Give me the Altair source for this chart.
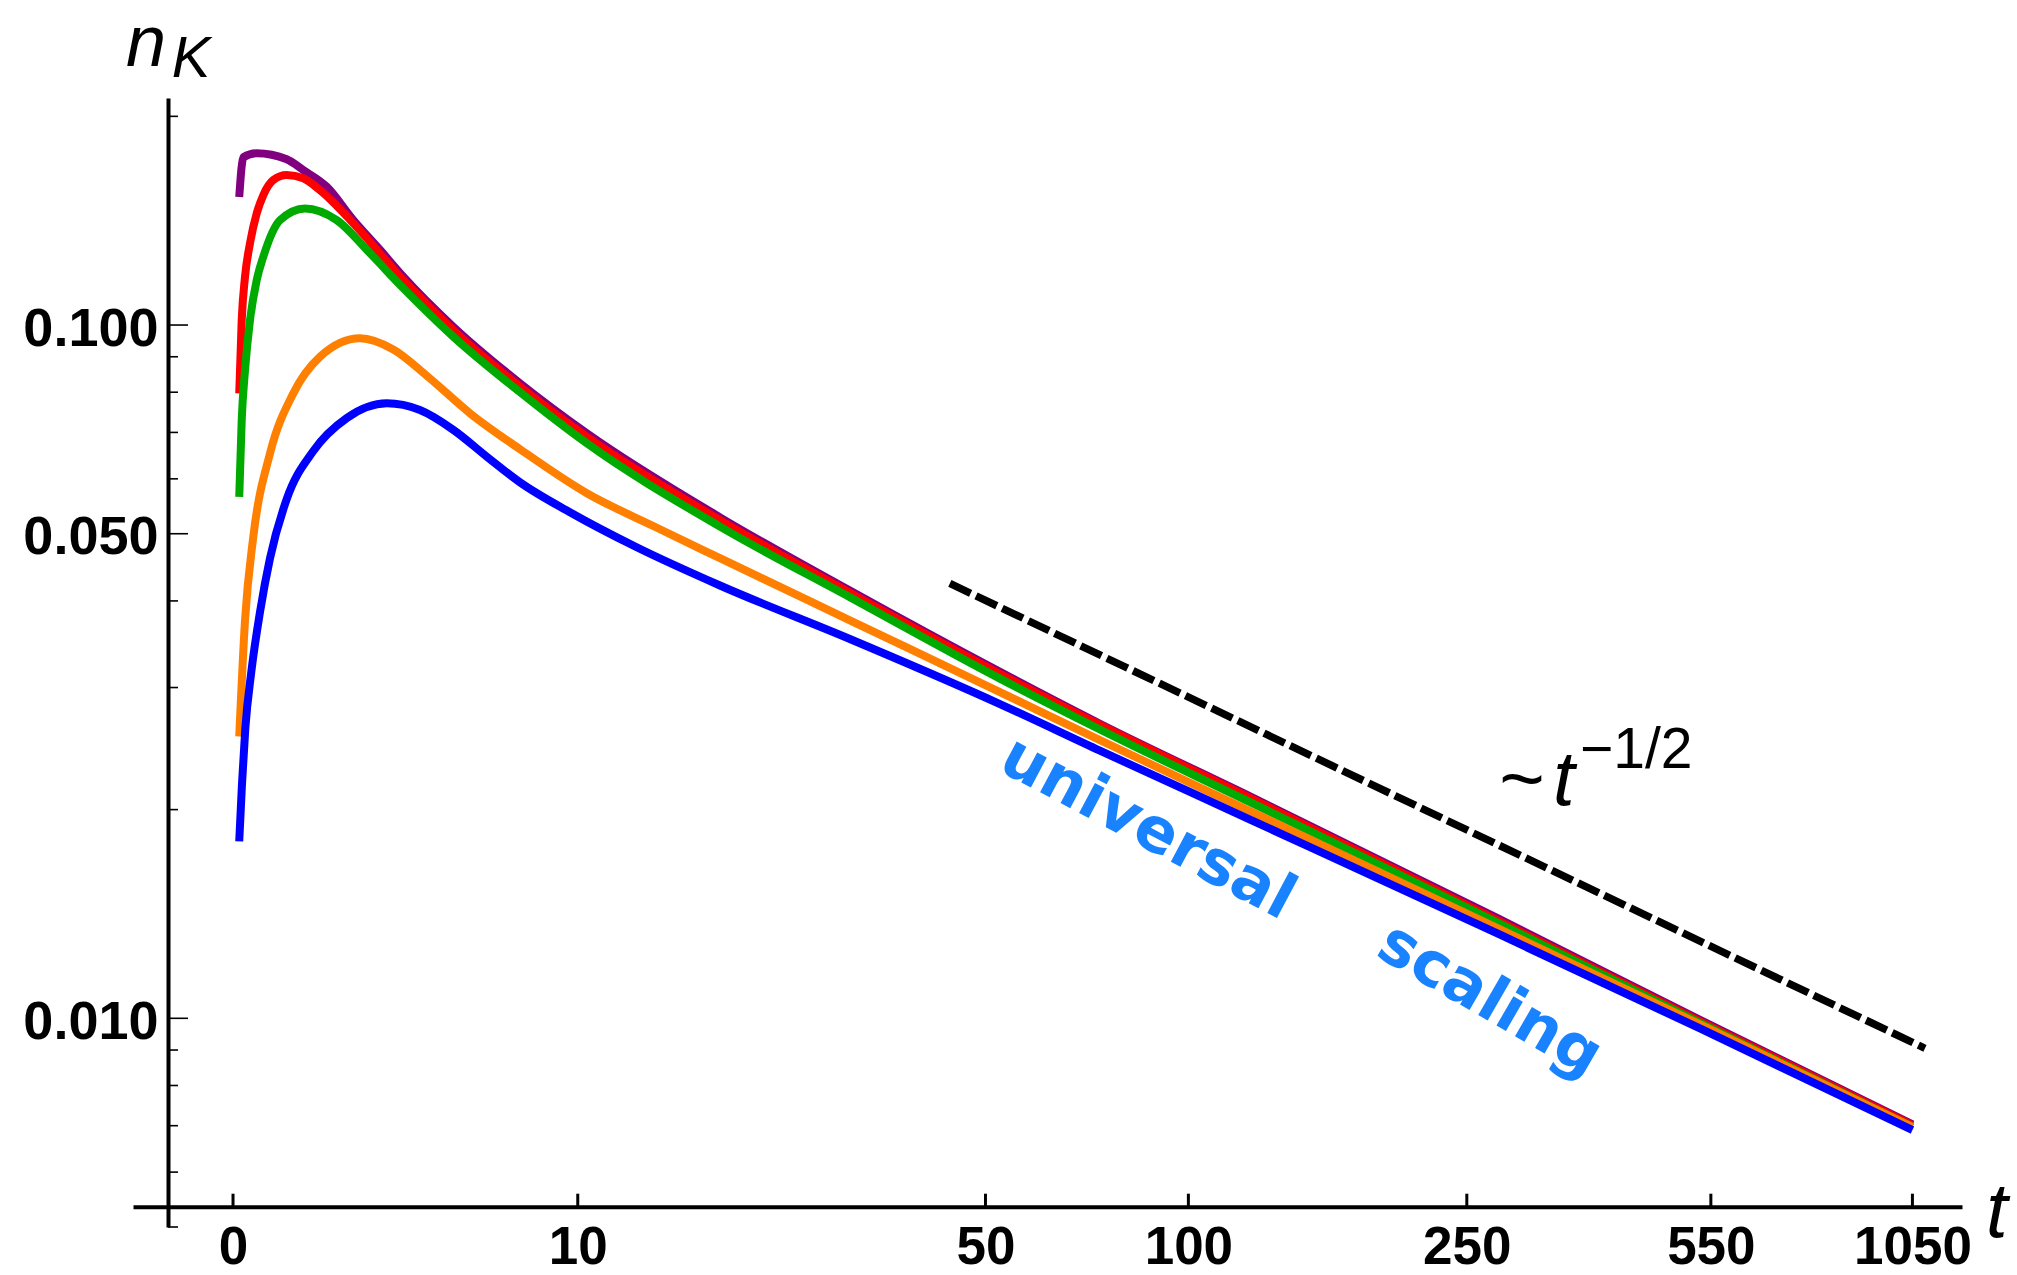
import altair as alt
import pandas as pd

# ---------------- data ----------------
purple_t = [0.1, 0.167, 0.392, 0.933, 1.255, 1.74, 2.336, 2.99, 3.603, 5.09, 7.48, 10.44, 18.6, 30.7, 52.6, 74.2, 122.8, 278, 531, 1050]
purple_n = [0.153, 0.1746, 0.1769, 0.1734, 0.1673, 0.1583, 0.1417, 0.1283, 0.1174, 0.0994, 0.0824, 0.0698, 0.0528, 0.0414, 0.0316, 0.0266, 0.0209, 0.0139, 0.00995, 0.00703]

red_t = [0.1, 0.1405, 0.195, 0.278, 0.392, 0.507, 0.685, 0.933, 1.255, 1.597, 2.336, 3.603, 5.09, 7.48, 10.44, 18.6, 30.7, 52.6, 74.2, 122.8, 278, 531, 1050]
red_n = [0.0797, 0.1017, 0.1174, 0.1312, 0.1449, 0.1540, 0.1619, 0.1646, 0.1628, 0.1565, 0.1402, 0.1161, 0.0983, 0.0815, 0.0690, 0.0523, 0.0411, 0.0314, 0.0265, 0.0208, 0.0138, 0.0099, 0.00701]

green_t = [0.1, 0.1405, 0.195, 0.278, 0.392, 0.507, 0.808, 1.29, 1.958, 2.737, 3.603, 5.09, 7.48, 10.44, 18.6, 30.7, 52.6, 74.2, 122.8, 278, 531, 1050]
green_n = [0.0565, 0.0730, 0.0861, 0.1017, 0.1161, 0.1255, 0.1417, 0.1473, 0.1417, 0.1269, 0.1130, 0.0962, 0.0800, 0.0675, 0.0512, 0.0405, 0.0309, 0.0261, 0.0205, 0.0137, 0.00985, 0.00697]

orange_t = [0.1, 0.195, 0.334, 0.626, 1.059, 1.597, 2.494, 3.333, 4.27, 5.64, 7.48, 10.44, 14.08, 18.6, 30.7, 52.6, 74.2, 122.8, 278, 531, 1050]
orange_n = [0.0255, 0.0375, 0.0495, 0.0653, 0.0797, 0.0900, 0.0957, 0.0922, 0.0845, 0.0746, 0.0662, 0.0572, 0.0513, 0.0461, 0.0375, 0.02955, 0.0252, 0.0199, 0.01345, 0.0098, 0.00697]

blue_t = [0.1, 0.144, 0.2, 0.3, 0.45, 0.626, 0.933, 1.458, 2.183, 3.16, 4.07, 5.09, 6.22, 7.48, 9.63, 13.1, 18.6, 30.7, 52.6, 74.2, 122.8, 278, 531, 1050]
blue_n = [0.0180, 0.0217, 0.0262, 0.0316, 0.0386, 0.0461, 0.0561, 0.0658, 0.0734, 0.0771, 0.0754, 0.0706, 0.0646, 0.0593, 0.0537, 0.0478, 0.0421, 0.03525, 0.0284, 0.02433, 0.01935, 0.01321, 0.00967, 0.00690]

guide_t = [44.1, 1093]
guide_n = [0.0424, 0.00905]

x_tick_values = [0, 10, 50, 100, 250, 550, 1050]
y_major_values = [0.01, 0.05, 0.1]
y_minor_values = [0.2, 0.09, 0.08, 0.07, 0.06, 0.04, 0.03, 0.02, 0.009, 0.008, 0.007, 0.006, 0.005]

# annotation anchors (data coordinates)
nK_n_anchor = (-2.03, 0.2364)
nK_K_anchor = (-1.078, 0.2279)
t_axis_anchor = (1329, 0.004837)
tilde_anchor = (299, 0.0203)
tpow_t_anchor = (330.6, 0.0203)
tpow_exp_anchor = (360.7, 0.02296)
universal_anchor = (87.3, 0.01881)
scaling_anchor = (269.5, 0.01063)

# ---------------- chart ----------------
W, H = 1829, 1129
FONT = "Liberation Sans, Arial, Helvetica, sans-serif"

xscale = alt.Scale(type="symlog", constant=5, domain=[-1.877, 1230.6], nice=False, zero=False)
yscale = alt.Scale(type="log", domain=[0.005, 0.21256], nice=False)

xaxis = alt.Axis(values=x_tick_values, format="d", title=None, offset=-20.3,
                 domain=True, domainColor="black", domainWidth=4,
                 ticks=False, tickSize=0, grid=False,
                 labelFont=FONT, labelFontWeight="bold", labelFontSize=53, labelColor="black",
                 labelPadding=14.5, labelFlush=False, labelOverlap=False)
yaxis = alt.Axis(values=y_major_values, format=".3f", title=None, offset=-35,
                 domain=True, domainColor="black", domainWidth=4,
                 ticks=False, tickSize=0, grid=False,
                 labelFont=FONT, labelFontWeight="bold", labelFontSize=54, labelColor="black",
                 labelPadding=10, labelOffset=4, labelFlush=False, labelOverlap=False)


def X():
    return alt.X("t:Q", scale=xscale, axis=xaxis)


def Y():
    return alt.Y("n:Q", scale=yscale, axis=yaxis)


def series_df(ts, ns):
    return pd.DataFrame({"t": ts, "n": ns})


def curve(ts, ns, color):
    return alt.Chart(series_df(ts, ns)).mark_line(
        color=color, strokeWidth=8, interpolate="monotone", clip=False
    ).encode(x=X(), y=Y())


layers = []

# manual inward ticks
layers.append(alt.Chart(pd.DataFrame({"n": y_minor_values})).mark_rule(color="black", strokeWidth=1.6).encode(
    y=Y(), x=alt.value(35), x2=alt.value(45)))
layers.append(alt.Chart(pd.DataFrame({"n": y_major_values})).mark_rule(color="black", strokeWidth=1.6).encode(
    y=Y(), x=alt.value(35), x2=alt.value(55)))
layers.append(alt.Chart(pd.DataFrame({"t": x_tick_values})).mark_rule(color="black", strokeWidth=3).encode(
    x=X(), y=alt.value(H - 20.3), y2=alt.value(H - 20.3 - 13)))

# curves (drawn in this order: blue on top)
layers.append(curve(purple_t, purple_n, "#800080"))
layers.append(curve(red_t, red_n, "#FF0000"))
layers.append(curve(green_t, green_n, "#00AA00"))
layers.append(curve(orange_t, orange_n, "#FF8000"))
layers.append(curve(blue_t, blue_n, "#0000FF"))

# dashed guide
layers.append(alt.Chart(series_df(guide_t, guide_n)).mark_line(
    color="black", strokeWidth=7.5, strokeDash=[23, 6], clip=False).encode(x=X(), y=Y()))


def label(anchor, text, size, align="left", baseline="alphabetic", italic=False, bold=False,
          color="black", font=FONT, angle=0):
    df = pd.DataFrame({"t": [anchor[0]], "n": [anchor[1]], "txt": [text]})
    kw = dict(align=align, baseline=baseline, fontSize=size, color=color, font=font, clip=False)
    if italic:
        kw["fontStyle"] = "italic"
    if bold:
        kw["fontWeight"] = "bold"
    if angle:
        kw["angle"] = angle
    return alt.Chart(df).mark_text(**kw).encode(x=X(), y=Y(), text="txt:N")


layers.append(label(nK_n_anchor, "n", 72, italic=True))
layers.append(label(nK_K_anchor, "K", 58, italic=True))
layers.append(label(t_axis_anchor, "t", 78, italic=True))
layers.append(label(tilde_anchor, "~", 78, align="center"))
layers.append(label(tpow_t_anchor, "t", 78, italic=True))
layers.append(label(tpow_exp_anchor, "\u22121/2", 57))
layers.append(label(universal_anchor, "universal", 62, align="center", baseline="middle", bold=True,
                    color="#1982FF", font="DejaVu Sans, sans-serif", angle=28))
layers.append(label(scaling_anchor, "scaling", 62, align="center", baseline="middle", bold=True,
                    color="#1982FF", font="DejaVu Sans, sans-serif", angle=30))

chart = alt.layer(*layers).properties(
    width=W, height=H,
    padding={"left": 133, "top": 98, "right": 55, "bottom": 48},
    autosize=alt.AutoSizeParams(type="none"),
    background="white",
).configure_view(strokeWidth=0)

chart.save("out.html", embed_options={"renderer": "svg", "actions": False})
